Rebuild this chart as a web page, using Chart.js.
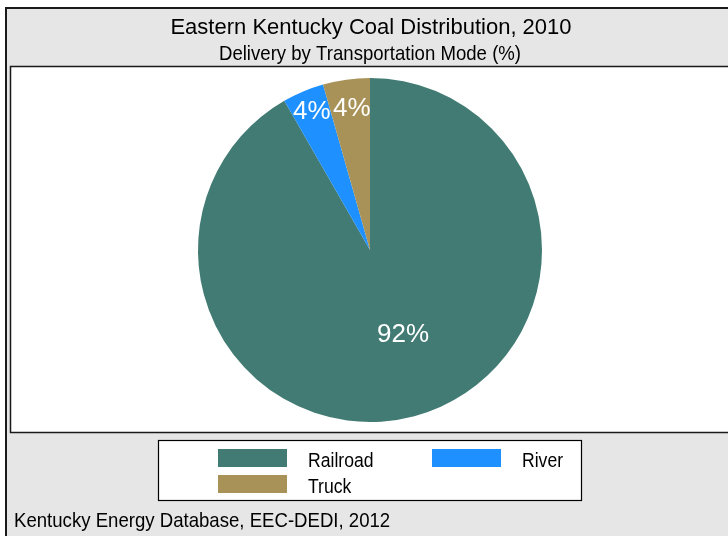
<!DOCTYPE html>
<html>
<head>
<meta charset="utf-8">
<script src="https://cdn.jsdelivr.net/npm/chart.js@4"></script>
<style>
  html, body { margin: 0; padding: 0; background: #fff; }
  #wrap { position: relative; width: 728px; height: 536px; }
</style>
</head>
<body>
<div id="wrap"><canvas id="pie" width="728" height="536"></canvas></div>
<script>
/* ---- Data ---- */
const modes = ["Railroad", "River", "Truck"];
const shares = [91.7, 3.9, 4.4];
const shareLabels = ["92%", "4%", "4%"];
const titleText = "Eastern Kentucky Coal Distribution, 2010";
const subtitleText = "Delivery by Transportation Mode (%)";
const footerText = "Kentucky Energy Database, EEC-DEDI, 2012";

/* ---- Theme ---- */
const sliceColors = ["#417b73", "#1e90ff", "#a89258"];
const font = "'Liberation Sans', Arial, sans-serif";
const labelRadius = [0.53, 0.87, 0.83];
const labelTurn = [-0.11, 0, 0.01];

// text on a baseline, optionally stretched upward
const drawText = (ctx, text, x, base, size, stretch = 1) => {
  ctx.save();
  ctx.font = `${size}px ${font}`;
  ctx.textBaseline = "alphabetic";
  ctx.translate(x, base);
  ctx.scale(1, stretch);
  ctx.fillText(text, 0, 0);
  ctx.restore();
};

// frame, titles, legend box and footer
const framePlugin = {
  id: "frame",
  beforeDraw(chart) {
    const ctx = chart.ctx;
    ctx.save();
    ctx.fillStyle = "#fff";
    ctx.fillRect(0, 0, 728, 536);
    ctx.fillStyle = "#e6e6e6";
    ctx.fillRect(5, 7, 730, 540);
    ctx.strokeStyle = "#1a1a1a";
    ctx.lineWidth = 2;
    ctx.strokeRect(6, 8, 730, 540);

    ctx.fillStyle = "#fff";
    ctx.fillRect(10, 66, 730, 367);
    ctx.lineWidth = 1.5;
    ctx.strokeRect(10.5, 66.5, 730, 366);

    ctx.fillStyle = "#000";
    ctx.textAlign = "center";
    drawText(ctx, titleText, 371, 34, 22);
    drawText(ctx, subtitleText, 370, 60, 18.6, 1.05);

    ctx.textAlign = "left";
    drawText(ctx, footerText, 14, 527, 18.6, 1.12);

    // legend
    ctx.fillStyle = "#fff";
    ctx.fillRect(158, 440, 424, 60);
    ctx.lineWidth = 1.2;
    ctx.strokeStyle = "#000";
    ctx.strokeRect(158.5, 440.5, 423, 60);
    const spots = [[218, 449], [432, 449], [218, 475]];
    modes.forEach((name, i) => {
      const [x, y] = spots[i];
      ctx.fillStyle = sliceColors[i];
      ctx.fillRect(x, y, 69, 18);
      ctx.fillStyle = "#000";
      drawText(ctx, name, x + 90, y + 17.5, 17.6, 1.2);
    });
    ctx.restore();
  },
  afterDatasetsDraw(chart) {
    const ctx = chart.ctx;
    const arcs = chart.getDatasetMeta(0).data;
    ctx.save();
    ctx.fillStyle = "#fff";
    ctx.font = `26px ${font}`;
    ctx.textAlign = "center";
    ctx.textBaseline = "middle";
    arcs.forEach((arc, i) => {
      const mid = (arc.startAngle + arc.endAngle) / 2 + labelTurn[i];
      const r = arc.outerRadius * labelRadius[i];
      ctx.fillText(shareLabels[i], arc.x + Math.cos(mid) * r, arc.y + Math.sin(mid) * r);
    });
    ctx.restore();
  },
};

new Chart(document.getElementById("pie"), {
  type: "pie",
  data: {
    labels: modes,
    datasets: [{
      data: shares,
      backgroundColor: sliceColors,
      borderWidth: 0,
    }],
  },
  options: {
    responsive: false,
    animation: false,
    layout: { padding: { top: 78, bottom: 114, left: 198, right: 186 } },
    plugins: {
      legend: { display: false },
      title: { display: false },
      tooltip: { enabled: false },
    },
  },
  plugins: [framePlugin],
});
</script>
</body>
</html>
